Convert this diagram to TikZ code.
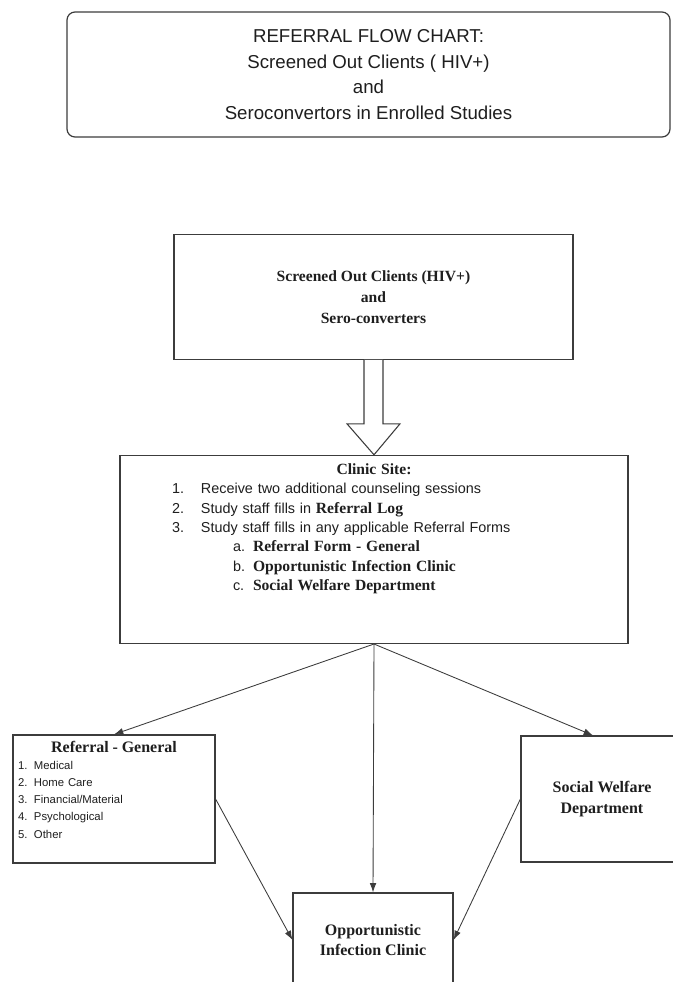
\documentclass[tikz,border=0pt]{standalone}
\usepackage{fontspec}
\setmainfont{Liberation Serif}
\setsansfont{Liberation Sans}
\usepackage{xcolor}
\usepackage{tikz}
\usetikzlibrary{arrows.meta,positioning}
\definecolor{FlowLine}{RGB}{60,60,60}
\definecolor{FlowText}{RGB}{30,30,30}
\newcommand{\flowbold}[1]{{\rmfamily\fontsize{11.7}{14.5}\selectfont\bfseries #1}}

\begin{document}
\begin{tikzpicture}[x=0.75pt,y=-0.75pt,
    box/.style={draw=FlowLine,line width=0.9pt,text=FlowText,align=center,
                font=\fontsize{12}{15.75}\selectfont\bfseries},
    tbox/.style={box,rounded corners=6pt,font=\sffamily\fontsize{14}{19.25}\selectfont},
    lbox/.style={box,align=left,inner ysep=0pt},
    arr/.style={-{Latex[length=7pt,width=5pt]},FlowLine,line width=0.65pt},
    hollow/.style={draw=FlowLine,line width=0.8pt,fill=white}
  ]
  \useasboundingbox (0,0) rectangle (672,982);
  \node[tbox,minimum width=452.25pt,minimum height=93.75pt] (T) at (368.5,74.5)
    {REFERRAL FLOW CHART:\\Screened Out Clients ( HIV+)\\and\\Seroconvertors in Enrolled Studies};
  \node[box,minimum width=299.25pt,minimum height=93.75pt,
        font=\fontsize{11.7}{15.75}\selectfont\bfseries,below=72pt of T,xshift=3.75pt] (S)
    {Screened Out Clients (HIV+)\\and\\Sero-converters};
  \node[lbox,text width=303pt,inner xsep=39pt,text height=14.25pt,text depth=126.75pt,
        font=\sffamily\fontsize{10.8}{14.5}\selectfont,below=71.25pt of S,xshift=0.375pt] (C)
    {\makebox[\linewidth]{\flowbold{Clinic Site:}}\\
     \makebox[21.75pt][l]{1.}Receive two additional counseling sessions\\
     \makebox[21.75pt][l]{2.}Study staff fills in \flowbold{Referral Log}\\
     \makebox[21.75pt][l]{3.}Study staff fills in any applicable Referral Forms\\
     \hspace*{45.75pt}\makebox[15pt][l]{a.}\flowbold{Referral Form - General}\\
     \hspace*{45.75pt}\makebox[15pt][l]{b.}\flowbold{Opportunistic Infection Clinic}\\
     \hspace*{45.75pt}\makebox[15pt][l]{c.}\flowbold{Social Welfare Department}};
  \node[lbox,text width=144pt,inner xsep=3.75pt,text height=12.75pt,text depth=83.25pt,
        font=\sffamily\fontsize{8.5}{12.9}\selectfont] (R) at (114,799)
    {\makebox[\linewidth]{\rmfamily\fontsize{12}{12.9}\selectfont\bfseries Referral - General}\\
     \makebox[12pt][l]{1.}Medical\\
     \makebox[12pt][l]{2.}Home Care\\
     \makebox[12pt][l]{3.}Financial/Material\\
     \makebox[12pt][l]{4.}Psychological\\
     \makebox[12pt][l]{5.}Other};
  \node[box,minimum width=121.5pt,minimum height=94.5pt] (W) at (602,799) {Social Welfare\\Department};
  \node[box,minimum width=120pt,minimum height=70.5pt,font=\fontsize{12}{15}\selectfont\bfseries] (O) at (373,940)
    {Opportunistic\\Infection Clinic};
  \draw[hollow] ([xshift=-7.125pt]S.south) -- ([xshift=-7.125pt,yshift=-48pt]S.south)
    -- ([xshift=-19.875pt,yshift=-48pt]S.south) -- (C.north)
    -- ([xshift=19.875pt,yshift=-48pt]S.south) -- ([xshift=7.125pt,yshift=-48pt]S.south)
    -- ([xshift=7.125pt]S.south);
  \draw[arr] (C.south) -- (R.north);
  \draw[arr] (C.south) -- ([xshift=-6.75pt]W.north);
  \draw[arr] (C.south) -- (O.north);
  \draw[arr] (R.east) -- (O.west);
  \draw[arr] (W.west) -- (O.east);
\end{tikzpicture}
\end{document}
